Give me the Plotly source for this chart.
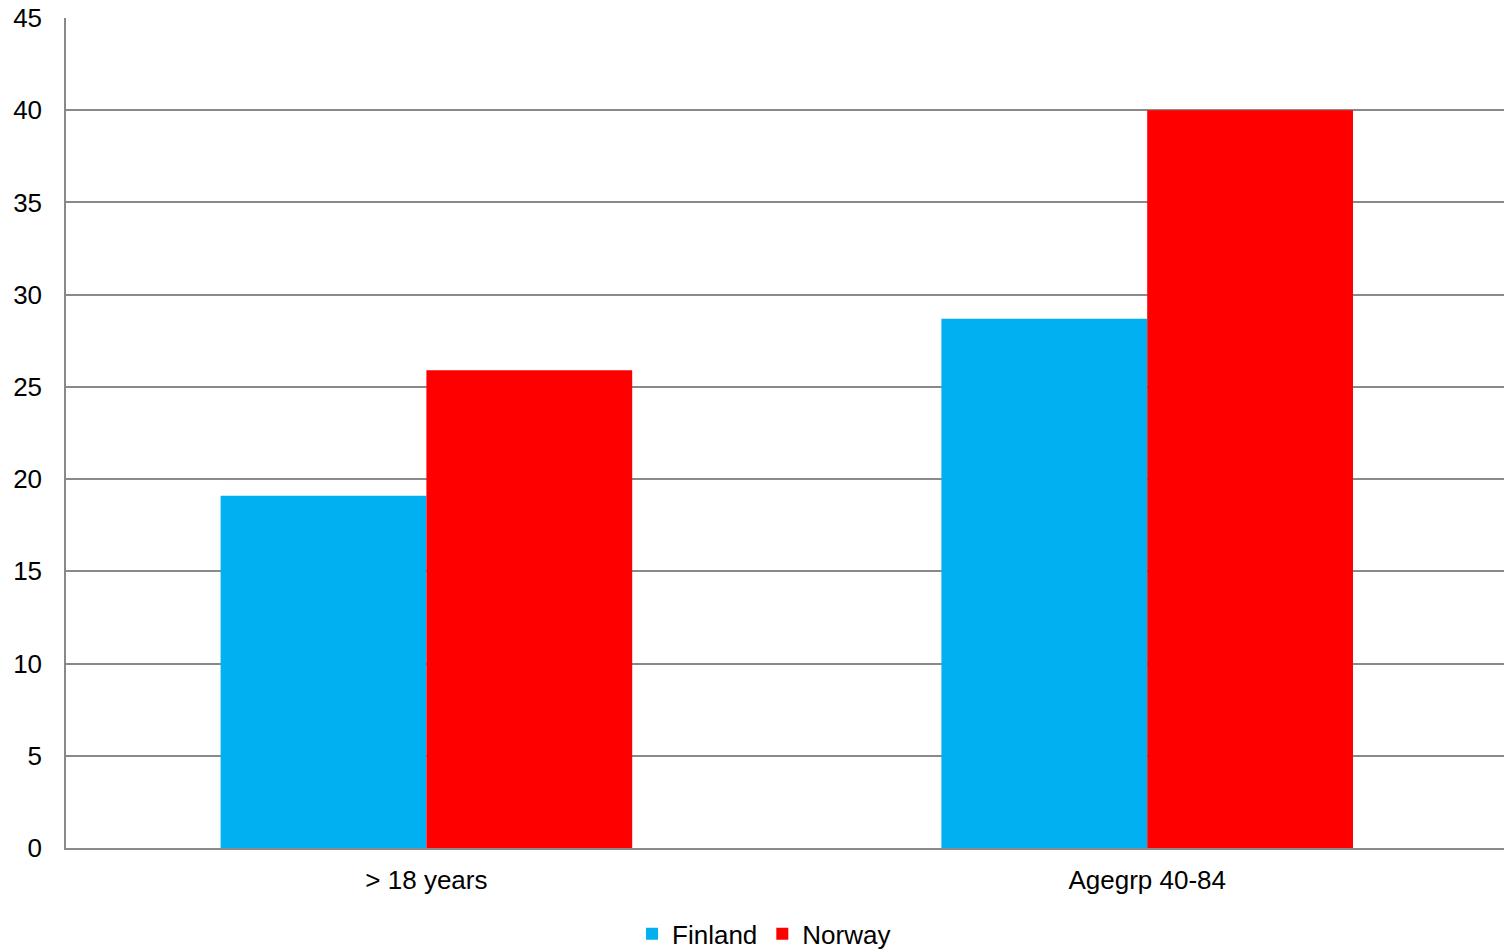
import plotly.graph_objects as go

categories = ["> 18 years", "Agegrp 40-84"]
finland = [19.1, 28.7]
norway = [25.9, 40.0]
y_ticks = [0, 5, 10, 15, 20, 25, 30, 35, 40, 45]

grid_color = "#898989"
font_family = "Liberation Sans, Arial, sans-serif"

fig = go.Figure()
fig.add_trace(go.Bar(name="Finland", x=categories, y=finland,
                     marker=dict(color="#00B0F0", line=dict(width=0))))
fig.add_trace(go.Bar(name="Norway", x=categories, y=norway,
                     marker=dict(color="#FF0000", line=dict(width=0))))

fig.update_layout(
    width=1504, height=949,
    margin=dict(l=66, r=0, t=18, b=101, autoexpand=False),
    paper_bgcolor="white", plot_bgcolor="white",
    barmode="group", bargap=0.429, bargroupgap=0,
    font=dict(family=font_family, size=26, color="#000000"),
    legend=dict(orientation="h", x=0.508, xanchor="center",
                xref="container", yref="container",
                y=0.016, yanchor="middle", font=dict(size=26),
                itemwidth=30, traceorder="normal"),
    xaxis=dict(range=[-0.5, 1.495], showgrid=False, showline=True,
               linecolor=grid_color, linewidth=1.5, ticks="",
               ticklabelstandoff=8, tickfont=dict(size=26)),
    yaxis=dict(range=[0, 45], tickvals=y_ticks, showgrid=True,
               gridcolor=grid_color, gridwidth=1.5, showline=True,
               linecolor=grid_color, linewidth=1.5, ticks="",
               ticklabelstandoff=17, zeroline=False, tickfont=dict(size=26)),
)

fig.write_html("out.html")
